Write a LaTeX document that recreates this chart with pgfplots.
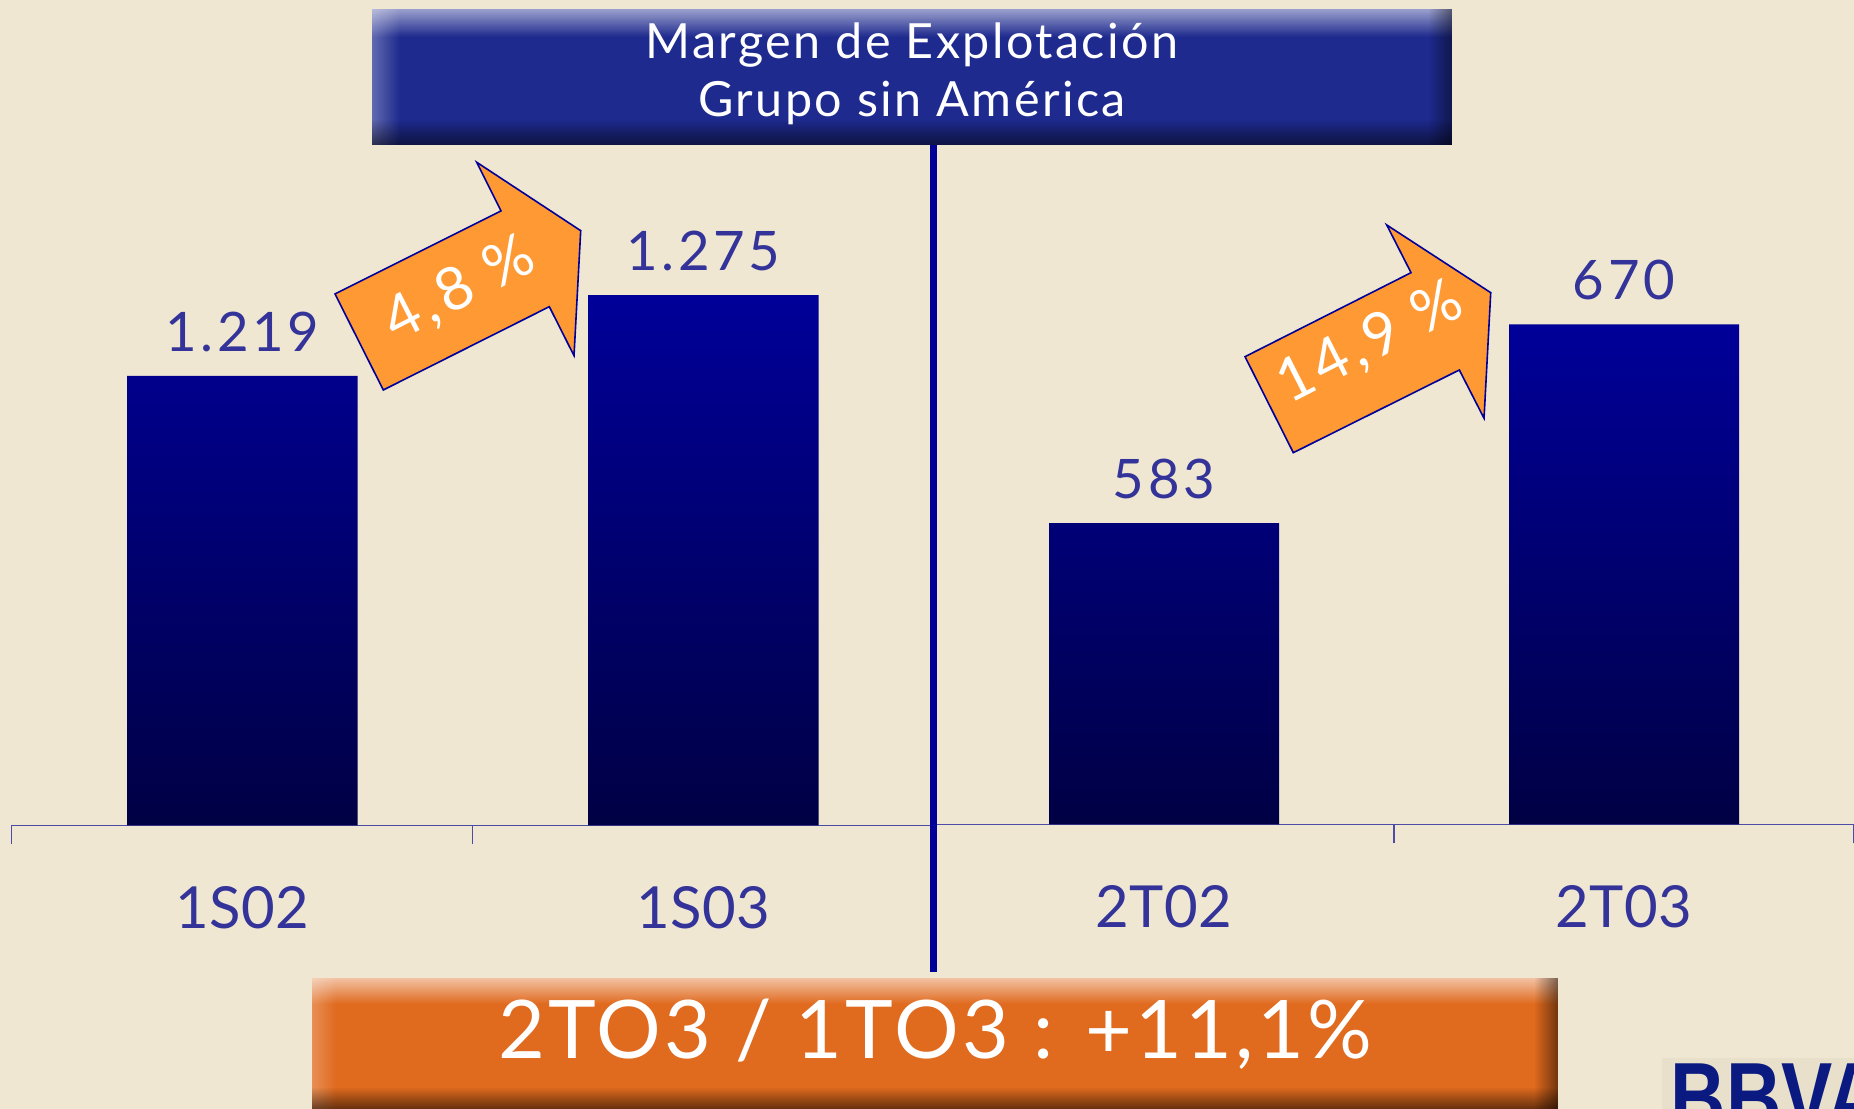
\documentclass[border=0pt]{standalone}
\usepackage{pgfplots}
\pgfplotsset{compat=1.18}
\usepackage{fontspec}
\setmainfont{Lato}
\newfontfamily\logofont{Liberation Sans}
\usetikzlibrary{fadings}
\definecolor{bg}{HTML}{EFE7D1}
\definecolor{valcol}{HTML}{333399}
\definecolor{axcol}{HTML}{4C4CA6}
\definecolor{divcol}{HTML}{000099}
\definecolor{barTop}{HTML}{000099}
\definecolor{barMid}{HTML}{000088}
\definecolor{barBot}{HTML}{000044}
\definecolor{titlemain}{HTML}{1E2A8E}
\definecolor{boxor}{HTML}{E06A1E}
\definecolor{arrowor}{HTML}{FF9933}
\definecolor{logocol}{HTML}{0A1A80}

\pgfplotsset{
  halfaxis/.style={
    scale only axis, height=60mm,
    xmin=-0.5, xmax=1.5, ymin=0,
    axis x line*=bottom, axis y line=none,
    x axis line style={-, draw=axcol, line width=0.16mm},
    xtick={0,1}, major tick length=0pt,
    major x tick style={draw=none},
    minor tick length=1.9mm, tick align=outside,
    minor x tick style={draw=axcol, line width=0.12mm},
    xticklabel style={font=\fontsize{16.5}{16.5}\selectfont\addfontfeature{LetterSpace=1}, text=valcol, anchor=center, yshift=-8.2mm},
    ybar, bar width=0.5, clip=false,
    nodes near coords, point meta=explicit symbolic,
    every node near coord/.append style={font=\fontsize{15.5}{15.5}\selectfont\addfontfeature{LetterSpace=7}, text=valcol, anchor=center, yshift=4.4mm},
  },
  barstyle/.style={draw=none, top color=barTop, middle color=barMid, bottom color=barBot},
}

\begin{document}
\begin{tikzpicture}
\useasboundingbox (0,0) rectangle (185.4mm,110.9mm);
\clip (0,0) rectangle (185.4mm,110.9mm);
\fill[bg] (0,0) rectangle (185.4mm,110.9mm);

% left panel
\begin{axis}[halfaxis, at={(1.18mm,28.35mm)}, anchor=south west, width=92.2mm,
  ymax=416.4, y filter/.expression={y-907},
  xticklabels={1S02,1S03}, minor xtick={-0.5,0.5}]
\addplot[barstyle] coordinates {(0,1219) [1.219] (1,1275) [1.275]};
\end{axis}

% right panel
\begin{axis}[halfaxis, at={(93.4mm,28.45mm)}, anchor=south west, width=92.0mm,
  ymax=262.8, y filter/.expression={y-451},
  xticklabels={2T02,2T03}, minor xtick={0.5,1.5}]
\addplot[barstyle] coordinates {(0,583) [583] (1,670) [670]};
\end{axis}

\begin{scope}[x=0.1mm,y=0.1mm]
% divider
\draw[divcol, line width=0.7mm] (933,137) -- (933,971);

% title box
\fill[titlemain] (372,963.6) rectangle (1452,1099.5);
\fill[white, opacity=0.55, path fading=south] (372,1072) rectangle (1452,1099.5);
\fill[white, opacity=0.3, path fading=east] (372,963.6) rectangle (400,1099.5);
\fill[black, opacity=0.55, path fading=north] (372,963.6) rectangle (1452,990);
\fill[black, opacity=0.45, path fading=west] (1428,963.6) rectangle (1452,1099.5);
\node[white, font=\fontsize{13.8}{13.8}\selectfont\addfontfeature{LetterSpace=5}] at (912,1064) {Margen de Explotación};
\node[white, font=\fontsize{13.8}{13.8}\selectfont\addfontfeature{LetterSpace=5}] at (912,1006) {Grupo sin América};

% bottom box
\fill[boxor] (312,0) rectangle (1558,131.2);
\fill[white, opacity=0.6, path fading=south] (312,105) rectangle (1558,131.2);
\fill[white, opacity=0.25, path fading=east] (312,0) rectangle (336,131.2);
\fill[black, opacity=0.55, path fading=north] (312,0) rectangle (1558,22);
\fill[black, opacity=0.5, path fading=west] (1534,0) rectangle (1558,131.2);
\node[white, font=\fontsize{23}{23}\selectfont\addfontfeature{LetterSpace=4}] at (935,74.4) {2TO3 / 1TO3 : +11,1\%};

% arrows
\filldraw[fill=arrowor, draw=divcol, line width=0.16mm, line join=miter]
  (383.3,719) -- (335,815) -- (501,898) -- (476.7,946.7) -- (580.7,878.3) -- (574,753.3) -- (549.3,802.3) -- cycle;
\node[white, rotate=27, font=\fontsize{17}{17}\selectfont\addfontfeature{LetterSpace=8}] at (460,819) {4,8 \%};
\filldraw[fill=arrowor, draw=divcol, line width=0.16mm, line join=miter]
  (1293.3,656.3) -- (1245,752.3) -- (1411,836.3) -- (1386.7,884) -- (1490.7,816.3) -- (1484,690.7) -- (1459.3,739) -- cycle;
\node[white, rotate=27, font=\fontsize{17}{17}\selectfont\addfontfeature{LetterSpace=8}] at (1370,765.7) {14,9 \%};

% logo
\fill[bg!97!black] (1662,0) rectangle (1854,51);
\node[anchor=north west, inner sep=0, text=logocol, font=\logofont\bfseries\fontsize{28}{28}\selectfont, xscale=0.78] at (1670,46) {BBVA};
\end{scope}
\end{tikzpicture}
\end{document}
